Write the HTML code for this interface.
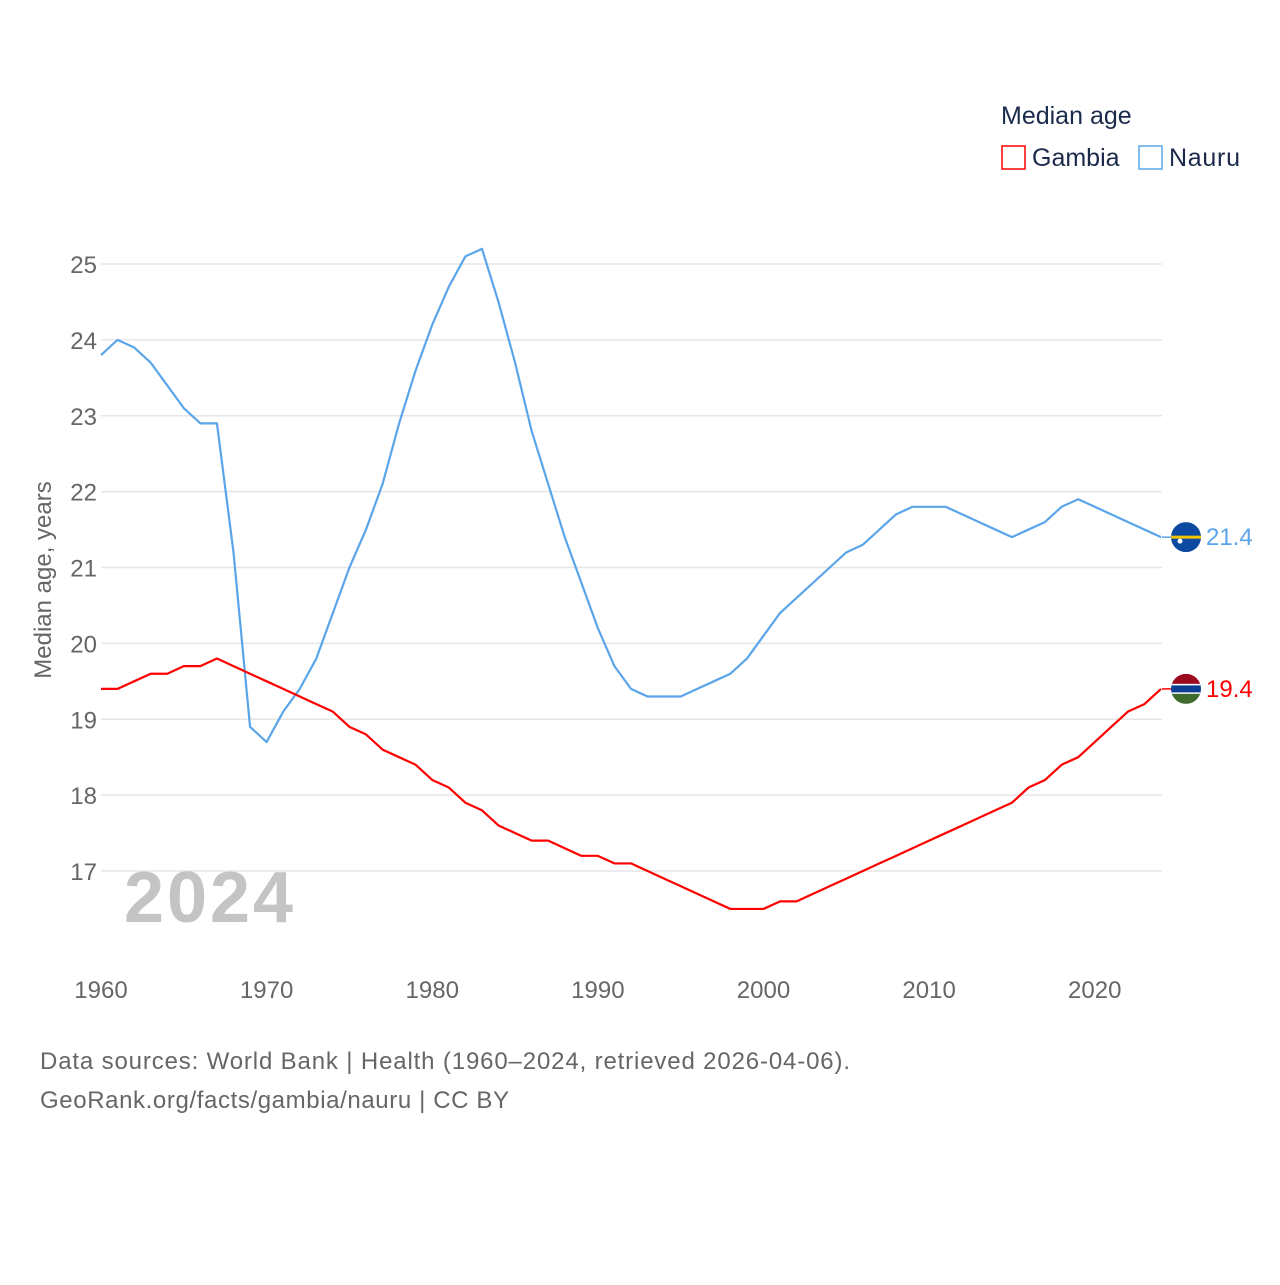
<!DOCTYPE html>
<html><head><meta charset="utf-8"><style>
body{margin:0;background:#fff;font-family:"Liberation Sans",sans-serif}
svg text{font-family:"Liberation Sans",sans-serif}
</style></head><body>
<svg id="chart" width="1280" height="1280">
<text x="1001" y="124" font-size="25" fill="#1b2a4a">Median age</text>
<rect x="1002" y="146" width="23" height="23" fill="none" stroke="#ff0000" stroke-width="1.5"/>
<text x="1032" y="166" font-size="25" fill="#1b2a4a">Gambia</text>
<rect x="1139" y="146" width="23" height="23" fill="none" stroke="#5aa5ea" stroke-width="1.5"/>
<text x="1169" y="166" font-size="25" fill="#1b2a4a" textLength="71">Nauru</text>
<g id="grid"></g>
<text x="124" y="922" font-size="72" font-weight="bold" fill="#c4c4c4" textLength="169">2024</text>
<text transform="translate(51,580) rotate(-90)" text-anchor="middle" font-size="24" fill="#666">Median age, years</text>
<g id="series"></g>
<text x="40" y="1069" font-size="24" fill="#666" textLength="810">Data sources: World Bank | Health (1960–2024, retrieved 2026-04-06).</text>
<text x="40" y="1108" font-size="24" fill="#666" textLength="469">GeoRank.org/facts/gambia/nauru | CC BY</text>
</svg>
<script>
const years=[];for(let y=1960;y<=2024;y++)years.push(y);
const gambia=[19.4,19.4,19.5,19.6,19.6,19.7,19.7,19.8,19.7,19.6,19.5,19.4,19.3,19.2,19.1,18.9,18.8,18.6,18.5,18.4,18.2,18.1,17.9,17.8,17.6,17.5,17.4,17.4,17.3,17.2,17.2,17.1,17.1,17.0,16.9,16.8,16.7,16.6,16.5,16.5,16.5,16.6,16.6,16.7,16.8,16.9,17.0,17.1,17.2,17.3,17.4,17.5,17.6,17.7,17.8,17.9,18.1,18.2,18.4,18.5,18.7,18.9,19.1,19.2,19.4];
const nauru=[23.8,24.0,23.9,23.7,23.4,23.1,22.9,22.9,21.2,18.9,18.7,19.1,19.4,19.8,20.4,21.0,21.5,22.1,22.9,23.6,24.2,24.7,25.1,25.2,24.5,23.7,22.8,22.1,21.4,20.8,20.2,19.7,19.4,19.3,19.3,19.3,19.4,19.5,19.6,19.8,20.1,20.4,20.6,20.8,21.0,21.2,21.3,21.5,21.7,21.8,21.8,21.8,21.7,21.6,21.5,21.4,21.5,21.6,21.8,21.9,21.8,21.7,21.6,21.5,21.4];
const yTicks=[17,18,19,20,21,22,23,24,25];
const xTicks=[1960,1970,1980,1990,2000,2010,2020];
const NS="http://www.w3.org/2000/svg";
const X=v=>101+(v-1960)*(1060/64);
const Y=v=>871-(v-17)*75.875;
const grid=document.getElementById('grid'),ser=document.getElementById('series');
function mk(tag,at,parent){const e=document.createElementNS(NS,tag);for(const k in at)e.setAttribute(k,at[k]);parent.appendChild(e);return e;}
yTicks.forEach(t=>{
 const l=mk('line',{x1:101,x2:1162,y1:Y(t),y2:Y(t),stroke:'#e6e6e6','stroke-width':1.5},grid);
 
 
 const tx=mk('text',{x:97,y:Y(t)+9,'text-anchor':'end','font-size':24,fill:'#666'},grid);
 tx.textContent=t;
 
 
});
xTicks.forEach(t=>{
 const tx=mk('text',{x:X(t),y:998,'text-anchor':'middle','font-size':24,fill:'#666'},grid);
 tx.textContent=t;
 
 
});
function line(data,color,name){
 const p=mk('polyline',{points:data.map((v,i)=>X(years[i])+','+Y(v)).join(' '),fill:'none',stroke:color,'stroke-width':2.2,'stroke-linejoin':'round'},ser);
 
 
}
line(nauru,'#5aa5ea','nauru');
line(gambia,'#ff0000','gambia');
function endMark(data,name,color,flag){
 const v=data[data.length-1],y=Y(v),cx=1186;
 const g=mk('g',{},ser);
 
 
 mk('line',{x1:1162,x2:1171,y1:y,y2:y,stroke:color,'stroke-width':1.5},g);
 const cid='c'+name;
 const cp=mk('clipPath',{id:cid},g);mk('circle',{cx:cx,cy:y,r:15},cp);
 const fg=mk('g',{'clip-path':'url(#'+cid+')'},g);
 flag.forEach(r=>mk('rect',{x:cx-15,y:y-15+r[0],width:30,height:r[1],fill:r[2]},fg));
 if(name==='nauru')mk('circle',{cx:cx-6,cy:y+4,r:2.5,fill:'#fff'},fg);
 const t=mk('text',{x:1206,y:y+8,'font-size':24,fill:color},g);
 t.textContent=v.toFixed(1);
 
 
}
endMark(nauru,'nauru','#5aa5ea',[[0,30,'#0b4aa0'],[13.5,3,'#f5c400']]);
endMark(gambia,'gambia','#ff0000',[[0,10,'#9c0a1e'],[10,10,'#0c3d95'],[10,1.5,'#fff'],[18.5,1.5,'#fff'],[20,10,'#3f6b2c']]);
</script>
</body></html>
